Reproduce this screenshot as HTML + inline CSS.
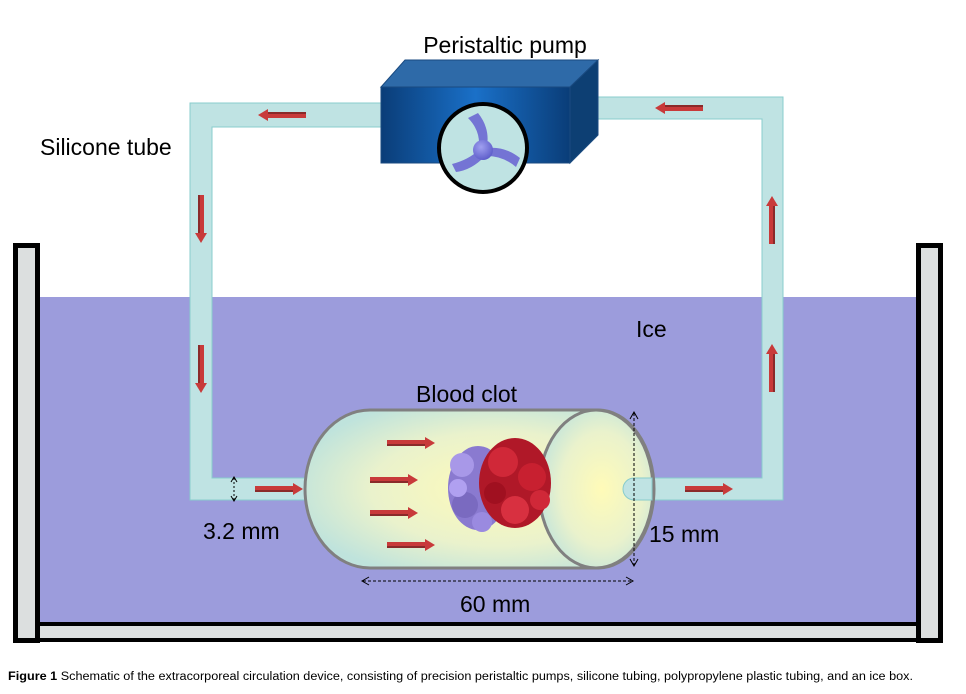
<!DOCTYPE html>
<html><head><meta charset="utf-8"><style>
html,body{margin:0;padding:0;background:#fff;width:966px;height:694px;overflow:hidden}
svg{display:block}
text{font-family:"Liberation Sans",sans-serif}
</style></head><body>
<svg width="966" height="694" viewBox="0 0 966 694" xmlns="http://www.w3.org/2000/svg">
<defs>
<linearGradient id="front" x1="0" y1="0" x2="1" y2="0">
<stop offset="0" stop-color="#0a3d78"/><stop offset="0.5" stop-color="#1a70c8"/><stop offset="1" stop-color="#0a3d78"/>
</linearGradient>
<radialGradient id="cyl" cx="0.55" cy="0.5" r="0.6">
<stop offset="0" stop-color="#fffbb8"/><stop offset="0.6" stop-color="#eaf2cc"/><stop offset="1" stop-color="#bfe3dc"/>
</radialGradient>
<radialGradient id="hub" cx="0.4" cy="0.35" r="0.7"><stop offset="0" stop-color="#a0a0f0"/><stop offset="1" stop-color="#5a5ac8"/></radialGradient>
<g id="arr"><rect x="0" y="-3" width="38" height="6" fill="#c83a3a"/><rect x="0" y="1" width="38" height="2" fill="#8a2a2a"/><polygon points="38,-6 48,0 38,6" fill="#c83a3a"/></g>
</defs>
<rect x="38" y="297" width="880" height="327" fill="#9c9cdc"/>
<rect x="15.5" y="245.5" width="22" height="395" fill="#dcdfdf" stroke="#000" stroke-width="5"/>
<rect x="918.5" y="245.5" width="22" height="395" fill="#dcdfdf" stroke="#000" stroke-width="5"/>
<rect x="38" y="624" width="880" height="16" fill="#dcdfdf" stroke="#000" stroke-width="4"/>
<g fill="#bfe3e3" stroke="#8cc" stroke-width="1">
<path d="M190 103 H384 V127 H212 V478 H318 V500 H190 Z"/>
<path d="M585 97 H783 V500 H634 A11 11 0 0 1 634 478 H762 V119 H585 Z"/>
</g>
<polygon points="381,87 405,60 598,60 570,87" fill="#2e6aa8" stroke="#1a4a80"/>
<polygon points="570,87 598,60 598,135 570,163" fill="#0d3f73" stroke="#1a4a80"/>
<rect x="381" y="87" width="189" height="76" fill="url(#front)" stroke="#1a4a80"/>
<circle cx="483" cy="148" r="44" fill="#bfe3e3" stroke="#000" stroke-width="4"/>
<g fill="#7474d4">
<path d="M468 118 L478 113 Q490 128 487 146 L479 146 Q480 130 468 118 Z"/>
<path d="M487 148 Q505 146 520 158 L516 167 Q503 156 487 156 Z"/>
<path d="M479 150 L485 156 Q472 170 456 172 L452 164 Q468 160 479 150 Z"/>
</g>
<circle cx="483" cy="150" r="10" fill="url(#hub)"/>
<path d="M370 410 H598 A56 79 0 0 1 598 568 H370 A65 79 0 0 1 370 410 Z" fill="url(#cyl)" stroke="#808080" stroke-width="3"/>
<ellipse cx="596" cy="489" rx="57" ry="79" fill="url(#cyl)" stroke="#808080" stroke-width="3"/>
<path d="M634 478 H652 V500 H634 A11 11 0 0 1 634 478 Z" fill="#bfe3e3" stroke="#8cc"/>
<g>
<ellipse cx="478" cy="488" rx="30" ry="42" fill="#8a7ad0"/>
<circle cx="462" cy="465" r="12" fill="#a898e8"/><circle cx="465" cy="505" r="13" fill="#7a6ac0"/><circle cx="482" cy="522" r="10" fill="#9a8ae0"/><circle cx="458" cy="488" r="9" fill="#b0a0f0"/>
<ellipse cx="515" cy="483" rx="36" ry="45" fill="#b01828"/>
<circle cx="503" cy="462" r="15" fill="#d02838"/><circle cx="532" cy="477" r="14" fill="#c82030"/><circle cx="515" cy="510" r="14" fill="#d83040"/><circle cx="495" cy="493" r="11" fill="#a01020"/><circle cx="540" cy="500" r="10" fill="#d02838"/>
</g>
<use href="#arr" transform="translate(306,115) rotate(180)"/>
<use href="#arr" transform="translate(703,108) rotate(180)"/>
<use href="#arr" transform="translate(201,195) rotate(90)"/>
<use href="#arr" transform="translate(201,345) rotate(90)"/>
<use href="#arr" transform="translate(772,244) rotate(-90)"/>
<use href="#arr" transform="translate(772,392) rotate(-90)"/>
<use href="#arr" transform="translate(255,489)"/>
<use href="#arr" transform="translate(685,489)"/>
<use href="#arr" transform="translate(387,443)"/>
<use href="#arr" transform="translate(370,480)"/>
<use href="#arr" transform="translate(370,513)"/>
<use href="#arr" transform="translate(387,545)"/>
<g stroke="#000" stroke-width="1" fill="none">
<line x1="234" y1="478" x2="234" y2="500" stroke-dasharray="2,2"/>
<path d="M231 482 L234 477 L237 482 M231 496 L234 501 L237 496"/>
<line x1="634" y1="413" x2="634" y2="566" stroke-dasharray="3,2"/>
<path d="M630 419 L634 412 L638 419 M630 559 L634 566 L638 559"/>
<line x1="363" y1="581" x2="632" y2="581" stroke-dasharray="3,2"/>
<path d="M369 577 L362 581 L369 585 M626 577 L633 581 L626 585"/>
</g>
<g font-size="23" fill="#000">
<text x="505" y="53" text-anchor="middle">Peristaltic pump</text>
<text x="40" y="155">Silicone tube</text>
<text x="636" y="337">Ice</text>
<text x="416" y="402">Blood clot</text>
<text x="203" y="539">3.2 mm</text>
<text x="649" y="542">15 mm</text>
<text x="460" y="612">60 mm</text>
</g>
<text x="8" y="680" font-size="11.5" textLength="905" lengthAdjust="spacingAndGlyphs"><tspan font-weight="bold">Figure 1</tspan> Schematic of the extracorporeal circulation device, consisting of precision peristaltic pumps, silicone tubing, polypropylene plastic tubing, and an ice box.</text>
</svg>
</body></html>
